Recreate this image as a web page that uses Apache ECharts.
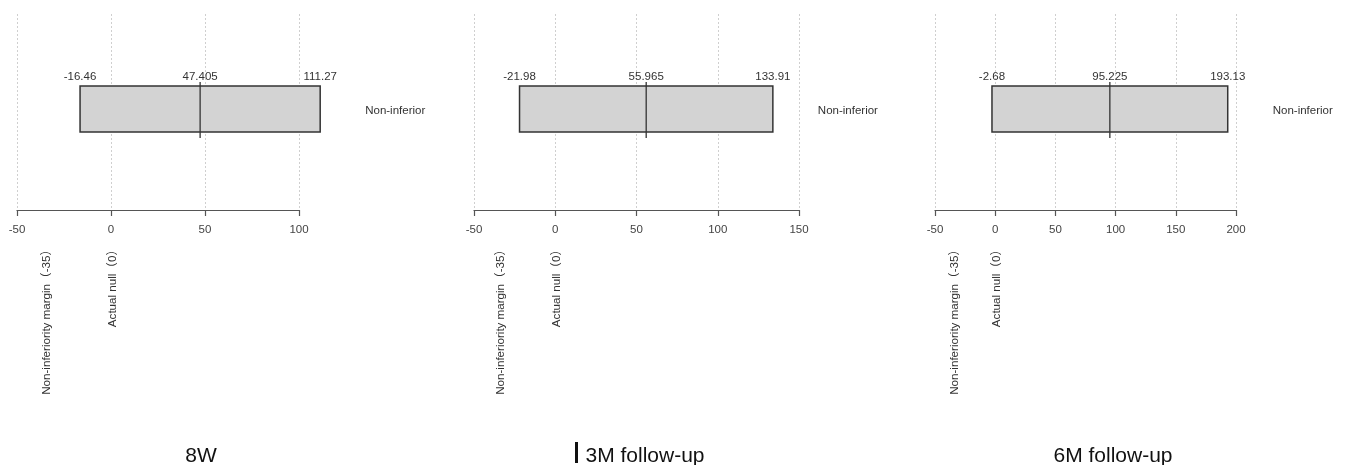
<!DOCTYPE html>
<html>
<head>
<meta charset="utf-8">
<script src="https://cdn.jsdelivr.net/npm/echarts@6/dist/echarts.min.js"></script>
<style>html,body{margin:0;padding:0;background:#fff}#c{width:1347px;height:465px}</style>
</head>
<body>
<div id="c"></div>
<script>
// ---- data ----
const panels = ['8W', '3M follow-up', '6M follow-up'];
const lower = [-16.46, -21.98, -2.68];
const estimate = [47.405, 55.965, 95.225];
const upper = [111.27, 133.91, 193.13];
const verdict = ['Non-inferior', 'Non-inferior', 'Non-inferior'];
const axisMinVals = [-50, -50, -50];
const axisMaxVals = [100, 150, 200];
const tickInterval = 50;
const marginValue = -35;
const nullValue = 0;
const marginLabel = 'Non-inferiority margin（-35）';
const nullLabel = 'Actual null（0）';

// ---- layout (pixels) ----
const gridLeft = [17, 474, 935];
const gridWidth = [282, 325, 301];
const titleCenter = [196, 640, 1108];
const gridTop = 14, gridHeight = 196;
const FONT = '"Liberation Sans", Arial, "Noto Sans CJK SC", sans-serif';
const TXT = '#333';

const chart = echarts.init(document.getElementById('c'));

const grids = [], xAxes = [], yAxes = [], series = [], titles = [];
panels.forEach((name, i) => {
  grids.push({ left: gridLeft[i], top: gridTop, width: gridWidth[i], height: gridHeight, containLabel: false });
  xAxes.push({
    type: 'value', gridIndex: i, min: axisMinVals[i], max: axisMaxVals[i], interval: tickInterval,
    axisLine: { show: true, lineStyle: { color: '#555', width: 1.2 } },
    axisTick: { show: true, length: 6, lineStyle: { color: '#555', width: 1.2 } },
    axisLabel: { color: '#444', fontSize: 11.5, fontFamily: FONT, margin: 14 },
    splitLine: { show: true, lineStyle: { color: '#cfcfcf', type: [2, 2], width: 1 } }
  });
  yAxes.push({ type: 'value', gridIndex: i, min: 0, max: 1, show: false });
  titles.push({
    text: name, left: titleCenter[i], top: 441, textAlign: 'center',
    textStyle: { fontSize: 21, fontWeight: 'normal', color: '#111', fontFamily: FONT }
  });
  series.push({
    type: 'custom', xAxisIndex: i, yAxisIndex: i, clip: false,
    data: [[lower[i], estimate[i], upper[i]]],
    encode: { x: [0, 1, 2] },
    renderItem: function (params, api) {
      const lo = api.value(0), mid = api.value(1), hi = api.value(2);
      const yc = 0.515;
      const p1 = api.coord([lo, yc]);
      const p2 = api.coord([hi, yc]);
      const pm = api.coord([mid, yc]);
      const pMargin = api.coord([marginValue, 0]);
      const pNull = api.coord([nullValue, 0]);
      const half = 23;
      const ts = { fill: TXT, fontSize: 11.5, fontFamily: FONT, align: 'center', verticalAlign: 'middle' };
      return {
        type: 'group',
        children: [
          { type: 'rect', shape: { x: p1[0], y: p1[1] - half, width: p2[0] - p1[0], height: half * 2 },
            style: { fill: '#d3d3d3', stroke: '#333', lineWidth: 1.5 } },
          { type: 'line', shape: { x1: pm[0], y1: p1[1] - half - 4, x2: pm[0], y2: p1[1] + half + 6 },
            style: { stroke: '#333', lineWidth: 1.3 } },
          { type: 'text', x: p1[0], y: p1[1] - half - 9, style: Object.assign({}, ts, { text: String(lo) }) },
          { type: 'text', x: pm[0], y: p1[1] - half - 9, style: Object.assign({}, ts, { text: String(mid) }) },
          { type: 'text', x: p2[0], y: p1[1] - half - 9, style: Object.assign({}, ts, { text: String(hi) }) },
          { type: 'text', x: p2[0] + 45, y: p1[1] + 2, style: Object.assign({}, ts, { text: verdict[i], align: 'left' }) },
          { type: 'text', x: pMargin[0] + 2, y: pMargin[1] + 34, rotation: Math.PI / 2,
            style: Object.assign({}, ts, { text: marginLabel, align: 'right', fontSize: 11.6 }) },
          { type: 'text', x: pNull[0] + 2, y: pNull[1] + 34, rotation: Math.PI / 2,
            style: Object.assign({}, ts, { text: nullLabel, align: 'right', fontSize: 11.6 }) }
        ]
      };
    }
  });
});

chart.setOption({
  backgroundColor: '#fff',
  animation: false,
  title: titles,
  grid: grids,
  xAxis: xAxes,
  yAxis: yAxes,
  series: series,
  graphic: [
    { type: 'rect', shape: { x: 575, y: 442, width: 3, height: 21 }, style: { fill: '#111' } }
  ]
});
</script>
</body>
</html>
